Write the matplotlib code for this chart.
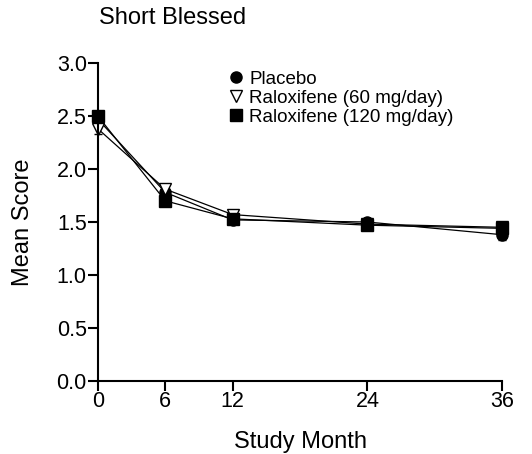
import matplotlib

matplotlib.use("Agg")
import matplotlib.pyplot as plt
from matplotlib.lines import Line2D

plt.rcParams["font.family"] = ["Liberation Sans", "DejaVu Sans"]

months = [0, 6, 12, 24, 36]
placebo = [2.47, 1.78, 1.52, 1.50, 1.38]
placebo_err = [0.05, 0.04, 0.04, 0.03, 0.05]
ralox60 = [2.38, 1.81, 1.57, 1.48, 1.45]
ralox60_err = [0.05, 0.04, 0.04, 0.03, 0.04]
ralox120 = [2.50, 1.70, 1.53, 1.47, 1.44]
ralox120_err = [0.05, 0.04, 0.04, 0.03, 0.04]
labels = ["Placebo", "Raloxifene (60 mg/day)", "Raloxifene (120 mg/day)"]

fig = plt.figure(figsize=(5.32, 4.54), dpi=100)
ax = fig.add_axes([0.184, 0.161, 0.760, 0.700])

ax.errorbar(months, placebo, yerr=placebo_err, color="black", lw=0.9, marker="o", ms=8,
            mfc="black", mec="black", capsize=3, elinewidth=0.9, clip_on=False)
ax.errorbar(months, ralox60, yerr=ralox60_err, color="black", lw=0.9, marker="v", ms=9,
            mfc="white", mec="black", capsize=3, elinewidth=0.9, clip_on=False)
ax.errorbar(months, ralox120, yerr=ralox120_err, color="black", lw=0.9, marker="s", ms=8,
            mfc="black", mec="black", capsize=3, elinewidth=0.9, clip_on=False)

ax.set_xlim(0, 36)
ax.set_ylim(0, 3.0)
ax.set_xticks(months)
ax.set_yticks([0.0, 0.5, 1.0, 1.5, 2.0, 2.5, 3.0])
ax.set_yticklabels(["0.0", "0.5", "1.0", "1.5", "2.0", "2.5", "3.0"])
for side in ["top", "right"]:
    ax.spines[side].set_visible(False)
for side in ["left", "bottom"]:
    ax.spines[side].set_linewidth(1.5)
ax.tick_params(direction="out", length=7, width=1.5, labelsize=15.5, pad=1)
ax.tick_params(axis="x", pad=0)

ax.set_xlabel("Study Month", fontsize=17, labelpad=14)
ax.set_ylabel("Mean Score", fontsize=17, labelpad=16)
fig.text(0.186, 0.96, "Short Blessed", fontsize=17, ha="left", va="center")

# legend markers only, no line segments
handles = [
    Line2D([], [], ls="none", marker="o", ms=8, mfc="black", mec="black"),
    Line2D([], [], ls="none", marker="v", ms=9, mfc="white", mec="black"),
    Line2D([], [], ls="none", marker="s", ms=8, mfc="black", mec="black"),
]
ax.legend(handles, labels, loc="upper left", bbox_to_anchor=(0.30, 1.0), frameon=False,
          fontsize=13.5, handletextpad=0.2, handlelength=1.0, labelspacing=0.1,
          borderaxespad=0)

plt.savefig("out.png", dpi=100)
plt.close()
